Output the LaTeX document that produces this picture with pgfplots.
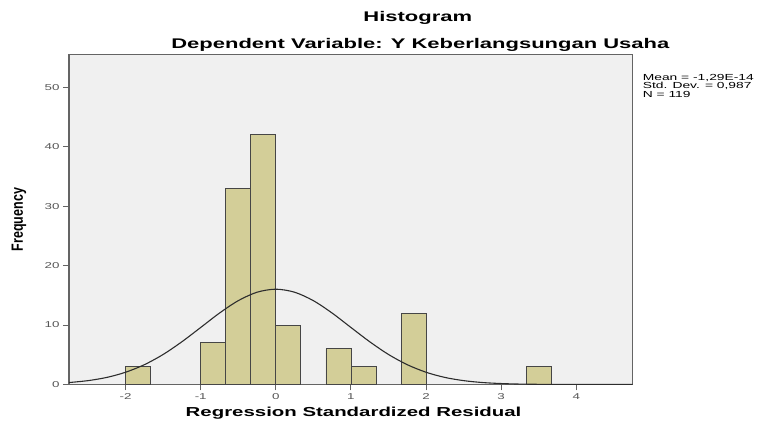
\documentclass[border=0pt]{standalone}
\usepackage{fontspec}
\setmainfont{Liberation Sans}[FakeStretch=1.57]
\newfontfamily\plainf{Liberation Sans}
\usepackage{graphicx}
\usepackage{pgfplots}
\pgfplotsset{compat=1.18}
\definecolor{bgc}{RGB}{240,240,240}
\definecolor{barc}{RGB}{211,206,152}
\definecolor{barline}{RGB}{70,70,70}
\definecolor{axc}{RGB}{100,100,100}
\definecolor{tickc}{RGB}{85,85,85}
\definecolor{curvec}{RGB}{45,45,45}
\begin{document}
\begin{tikzpicture}
\useasboundingbox (-69pt,-40.5pt) rectangle (688pt,384.5pt);
\begin{axis}[
  scale only axis, width=563.5pt, height=330pt,
  xmin=-2.753, xmax=4.748, ymin=0, ymax=55.5,
  clip mode=individual,
  axis background/.style={fill=bgc},
  axis line style={draw=axc, line width=1.4pt},
  xtick={-2,-1,0,1,2,3,4}, ytick={0,10,20,30,40,50},
  tick pos=left, tick align=outside, major tick length=6pt,
  tick style={draw=axc, line width=0.9pt},
  /pgf/number format/assume math mode=true,
  ticklabel style={font=\fontsize{8.5}{9}\selectfont, text=tickc},
  xlabel={Regression Standardized Residual},
  xlabel style={font=\bfseries\fontsize{13}{14}\selectfont, at={(axis description cs:0.505,-0.098)}, anchor=base},
  ylabel={\plainf\bfseries\fontsize{12.5}{13}\selectfont\scalebox{1}[1.3]{Frequency}},
  ylabel style={at={(axis description cs:-0.0887,0.5)}, anchor=center},
]
\addplot[ybar, bar width=0.333333, bar shift=0pt, fill=barc, draw=barline, line width=0.8pt]
  coordinates {(-1.83333,3) (-0.83333,7) (-0.5,33) (-0.16667,42) (0.16667,10)
               (0.83333,6) (1.16667,3) (1.83333,12) (3.5,3)};
\addplot[smooth, draw=curvec, line width=1.1pt, mark=none] coordinates {
  (-2.75,0.33) (-2.5,0.65) (-2.25,1.19) (-2,2.06) (-1.75,3.33) (-1.5,5.05)
  (-1.25,7.19) (-1,9.59) (-0.75,12.01) (-0.5,14.10) (-0.25,15.52) (0,16.03)
  (0.25,15.52) (0.5,14.10) (0.75,12.01) (1,9.59) (1.25,7.19) (1.5,5.05)
  (1.75,3.33) (2,2.06) (2.25,1.19) (2.5,0.65) (2.75,0.33) (3,0.16)
  (3.25,0.07) (3.5,0.03) (3.75,0.01) (4,0.0) (4.5,0.0) (4.748,0.0)};
\node[anchor=base, font=\bfseries\fontsize{14}{15}\selectfont] at (axis description cs:0.619,1.0994) {Histogram};
\node[anchor=base, font=\bfseries\fontsize{14}{15}\selectfont] at (axis description cs:0.6235,1.0188) {Dependent Variable: Y Keberlangsungan Usaha};
\node[anchor=base west, inner sep=0pt, font=\fontsize{8.8}{8.8}\selectfont] at (axis description cs:1.018,0.9227) {Mean = -1,29E-14};
\node[anchor=base west, inner sep=0pt, font=\fontsize{8.8}{8.8}\selectfont] at (axis description cs:1.018,0.8964) {Std. Dev. = 0,987};
\node[anchor=base west, inner sep=0pt, font=\fontsize{8.8}{8.8}\selectfont] at (axis description cs:1.018,0.8703) {N = 119};
\end{axis}
\end{tikzpicture}
\end{document}
